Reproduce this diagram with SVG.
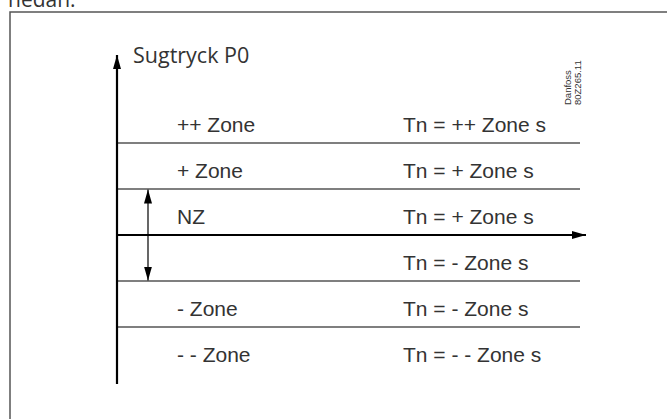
<svg xmlns="http://www.w3.org/2000/svg" width="667" height="419" viewBox="0 0 667 419">
<style>
.lbl{font-family:"Liberation Sans",Arial,sans-serif;font-size:21px;fill:#333}
.ttl{font-family:"Open Sans","Noto Sans",sans-serif;font-size:21.5px;fill:#333}
.code{font-family:"Liberation Sans",Arial,sans-serif;font-size:9.5px;fill:#333}
.grid{stroke:#555;stroke-width:1.5;fill:none}
.axis{stroke:#000;stroke-width:2.2;fill:none}
</style>
<defs>
<marker id="ah" viewBox="0 0 14 8" refX="14" refY="4" markerWidth="14" markerHeight="8" markerUnits="userSpaceOnUse" orient="auto-start-reverse">
<path d="M0,0 L14,4 L0,8 Z" fill="#000"/>
</marker>
</defs>
<rect width="667" height="419" fill="#fff"/>
<text x="8" y="7" class="ttl" style="font-size:21px">nedan.</text>
<rect x="10" y="12" width="700" height="500" fill="none" stroke="#555" stroke-width="1.5"/>
<g id="connectors">
<line class="grid" x1="117" y1="143" x2="580" y2="143"/>
<line class="grid" x1="117" y1="189" x2="580" y2="189"/>
<line class="grid" x1="117" y1="281" x2="580" y2="281"/>
<line class="grid" x1="117" y1="327" x2="580" y2="327"/>
<line class="axis" x1="117" y1="384" x2="117" y2="55" marker-end="url(#ah)"/>
<line class="axis" x1="117" y1="235" x2="586" y2="235" marker-end="url(#ah)"/>
<line x1="148" y1="189.5" x2="148" y2="280.5" stroke="#000" stroke-width="1.2" marker-start="url(#ah)" marker-end="url(#ah)"/>
</g>
<g id="title"><text x="133" y="63" class="ttl">Sugtryck P0</text></g>
<g id="code"><text class="code" transform="translate(571,105) rotate(-90)">Danfoss</text><text class="code" transform="translate(581,105) rotate(-90)">80Z265.11</text></g>
<g id="zone-pp"><text x="177" y="132" class="lbl">++ Zone</text><text x="403" y="132" class="lbl">Tn = ++ Zone s</text></g>
<g id="zone-p"><text x="177" y="178" class="lbl">+ Zone</text><text x="403" y="178" class="lbl">Tn = + Zone s</text></g>
<g id="zone-nz-upper"><text x="177" y="224" class="lbl">NZ</text><text x="403" y="224" class="lbl">Tn = + Zone s</text></g>
<g id="zone-nz-lower"><text x="403" y="270" class="lbl">Tn = - Zone s</text></g>
<g id="zone-m"><text x="177" y="316" class="lbl">- Zone</text><text x="403" y="316" class="lbl">Tn = - Zone s</text></g>
<g id="zone-mm"><text x="177" y="362" class="lbl">- - Zone</text><text x="403" y="362" class="lbl">Tn = - - Zone s</text></g>
</svg>
